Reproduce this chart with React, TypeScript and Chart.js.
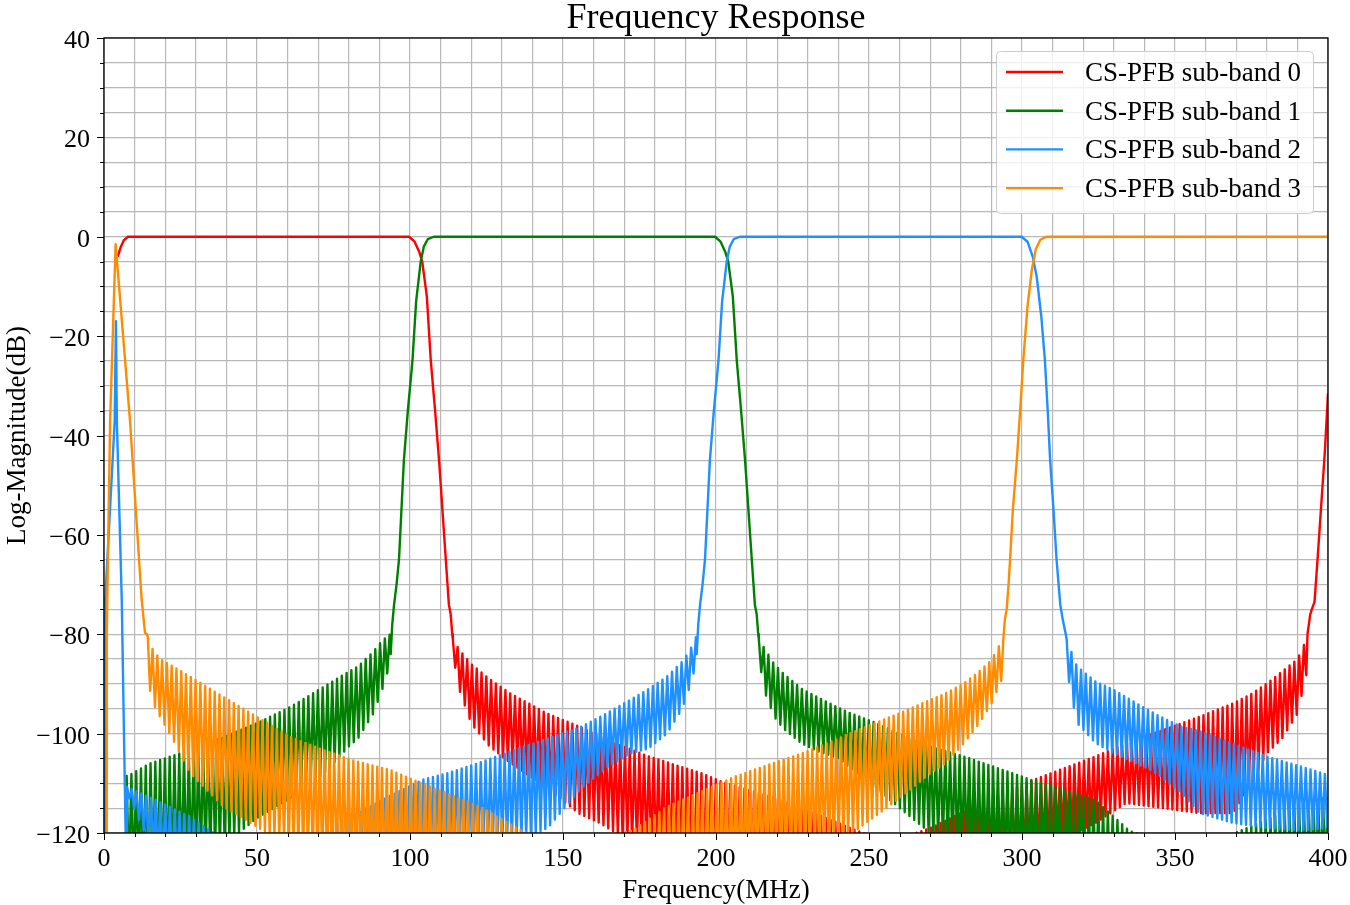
import React, { useEffect, useRef } from 'react';
import { Chart, registerables } from 'chart.js';

Chart.register(...registerables);

// ---------------- text ----------------
const TITLE = 'Frequency Response';
const X_LABEL = 'Frequency(MHz)';
const Y_LABEL = 'Log-Magnitude(dB)';
const SERIES_NAMES = ['CS-PFB sub-band 0', 'CS-PFB sub-band 1', 'CS-PFB sub-band 2', 'CS-PFB sub-band 3'];
const SERIES_COLORS = ['#ff0000', '#008000', '#1e90ff', '#ff8c00'];
const X_TICKS = [0, 50, 100, 150, 200, 250, 300, 350, 400];
const Y_TICKS = [40, 20, 0, -20, -40, -60, -80, -100, -120];

// spacing of the stop-band ripple (MHz)
const RIPPLE_PERIOD = 1.5625;

// ---------------- sub-band 0 (red) ----------------
const redMainFreq = [4.5, 5.5, 6.5, 7.8, 99.7, 101.5, 103, 104, 105.5, 106.8, 108.2, 109.5, 110.6, 111.7, 112.7, 113.3, 113.8];
const redMainDb = [-4, -2, -0.7, 0, 0, -1, -3, -5, -12, -25, -35, -45, -55, -65, -74, -76, -80];
const redLobeFreq = [114, 116, 120, 126, 133, 145, 155, 162, 178, 195, 202, 220, 240, 256, 270, 290, 305, 324, 334, 346, 358, 369, 375, 380, 385, 390, 393];
const redLobeHi = [-81, -83, -86, -89, -92, -96, -98.5, -100.6, -104.6, -107.9, -109.7, -113, -118, -122, -119, -113, -109, -104.6, -102, -99.3, -96.6, -93.9, -92, -89.9, -87.5, -85, -81];
const redLobeLo = [-84, -91, -98, -102.6, -106, -111, -116, -118, -124, -128, -130, -133, -135, -135, -134, -128, -124, -118, -114, -115, -116, -116, -110, -104, -101, -96, -88];
const redTailFreq = [393.3, 394.2, 394.7, 395.6, 396.8, 397.9, 399, 400];
const redTailDb = [-80, -76, -75, -73.5, -63, -53, -43, -31.5];

// ---------------- sub-band 1 (green) ----------------
const greenLobeAFreq = [7.4, 8.5, 15, 28, 40, 50, 61, 72, 80, 83, 88, 91, 93.5];
const greenLobeAHi = [-108.3, -108.3, -106, -103.3, -100.5, -97.9, -94.6, -90.5, -87.5, -86.5, -83.5, -81.2, -80];
const greenLobeALo = [-128, -130, -130, -128, -122, -117, -113, -108, -102.6, -101, -96, -91, -86];
const greenMainFreq = [93.7, 94.2, 94.8, 95.6, 96.4, 97.2, 98, 99.3, 100.8, 102, 103.5, 104.5, 105.8, 107.8, 199.7, 201.5, 203, 204, 205.5, 206.8, 208.2, 209.5, 210.6, 211.7, 212.7, 213.3, 213.8];
const greenMainDb = [-84, -78, -74, -70, -65, -55, -45, -35, -25, -13, -5, -2, -0.5, 0, 0, -1, -3, -5, -12, -25, -35, -45, -55, -65, -74, -76, -80];
const greenLobeBFreq = [214, 215.5, 219, 222, 228, 233, 240, 244, 252.5, 260, 270, 281, 290, 303, 315, 324, 335, 345, 358, 372, 385, 393, 400];
const greenLobeBHi = [-81, -82.5, -86, -87.9, -91, -92.6, -94.8, -95.9, -97.9, -100, -102.6, -104.6, -106.5, -109.3, -111.5, -113.4, -119.5, -122, -123, -119.4, -116, -114, -112.7];
const greenLobeBLo = [-84, -91, -96.6, -99, -102, -103.5, -105, -107, -111, -115, -120, -124, -128, -130, -132, -134, -135, -136, -136, -134, -132, -130, -128];

// ---------------- sub-band 2 (blue) ----------------
const blueSpikeFreq = [0.3, 0.4, 3.5, 3.9, 4.2, 5.8, 7.2];
const blueSpikeDb = [-125, -73, -37, -17, -37, -73, -125];
const blueLobeAFreq = [7.5, 17, 28, 36, 45, 55, 65, 73, 83, 93, 104, 112, 123, 134, 145, 156, 164, 172, 178, 184, 189, 191.5, 193.5];
const blueLobeAHi = [-110.7, -113.4, -116.7, -120, -123, -124, -122, -119, -116, -112.7, -109.3, -108, -105.8, -103.3, -101, -98.6, -96, -93.2, -91, -88.5, -85.5, -83.2, -80.5];
const blueLobeALo = [-112, -125, -130, -132, -134, -135, -135, -134, -132, -130, -128, -126, -124, -122, -119, -111, -107, -104, -103, -100, -95, -90.5, -86];
const blueMainFreq = [193.7, 194.2, 194.8, 195.6, 196.4, 197.2, 198, 199.3, 200.8, 202, 203.5, 204.5, 205.8, 207.8, 299.9, 301.8, 303.5, 304.8, 306.3, 307.5, 308.4, 309.2, 310.3, 311.3, 312.5, 313.3, 314.3];
const blueMainDb = [-84, -78, -74, -70, -65, -55, -45, -35, -25, -13, -5, -2, -0.5, 0, 0, -1, -4, -8, -16, -25, -35, -45, -55, -65, -74, -77, -80];
const blueLobeBFreq = [314.6, 315.5, 318, 324, 330, 335, 341, 345, 352, 358, 369, 380, 391, 400];
const blueLobeBHi = [-81, -82.5, -86.5, -89.5, -91.2, -93, -95.2, -96.5, -98.6, -99.5, -102, -104.6, -106.6, -108.3];
const blueLobeBLo = [-84, -90.5, -97.9, -101.9, -104, -105.3, -107, -108.5, -112, -116, -118, -119, -119.5, -119];

// ---------------- sub-band 3 (orange) ----------------
const orangeSpikeFreq = [0.5, 0.7, 0.9, 2, 3.8, 8.5, 12.3, 13.4, 14];
const orangeSpikeDb = [-125, -120, -80, -37, -1.5, -37, -73, -79.7, -80];
const orangeLobeFreq = [14.3, 15, 16.1, 18.3, 22.6, 28.1, 39, 49.9, 60.8, 71.7, 82, 93.5, 101, 112, 123, 134, 140, 150, 160, 173, 184, 195, 206, 217, 228, 238, 249, 260, 270, 275, 281, 286, 290, 293.5];
const orangeLobeHi = [-80.5, -82, -83.2, -85, -86.5, -88.5, -92.6, -96.6, -100.6, -103.3, -105.5, -107.3, -109.3, -112, -114.7, -118.7, -120.5, -122, -121.5, -119.4, -114.7, -111.7, -108.7, -106.3, -104, -101.5, -98.6, -95.9, -93.2, -91.9, -89.9, -87.5, -85.2, -81.2];
const orangeLobeLo = [-84, -91.2, -94, -96.6, -101.3, -107.9, -114.7, -118.7, -123, -126, -128, -130, -131, -132, -133, -134, -134, -134, -134, -134, -133, -132, -130, -128, -126, -123, -118, -113, -108, -106, -102, -98, -94, -89];
const orangeMainFreq = [293.9, 294.4, 295, 295.6, 296.1, 297, 298.3, 299.4, 300.4, 301.8, 303.2, 304.5, 306, 308, 400];
const orangeMainDb = [-81, -77, -75, -70, -65, -55, -45, -35, -25, -14, -6.7, -2.5, -0.6, 0, 0];

// ---------------- helpers ----------------
type Pt = { x: number; y: number };

function curve(f: number[], db: number[]): Pt[] {
  return f.map((x, i) => ({ x, y: db[i] }));
}

function envAt(f: number[], v: number[], x: number): number {
  if (x <= f[0]) return v[0];
  for (let i = 1; i < f.length; i++) {
    if (x <= f[i]) {
      const t = (x - f[i - 1]) / (f[i] - f[i - 1]);
      return v[i - 1] + t * (v[i] - v[i - 1]);
    }
  }
  return v[v.length - 1];
}

// ripple that swings between the read upper and lower envelopes
function lobe(f: number[], hi: number[], lo: number[]): Pt[] {
  const half = RIPPLE_PERIOD / 2;
  const n = Math.floor((f[f.length - 1] - f[0]) / half + 1e-9);
  const pts: Pt[] = [];
  for (let k = 0; k <= n; k++) {
    const x = f[0] + k * half;
    pts.push({ x, y: k % 2 === 0 ? envAt(f, hi, x) : envAt(f, lo, x) });
  }
  return pts;
}

const seriesPoints: Pt[][] = [
  [...curve(redMainFreq, redMainDb), ...lobe(redLobeFreq, redLobeHi, redLobeLo), ...curve(redTailFreq, redTailDb)],
  [...lobe(greenLobeAFreq, greenLobeAHi, greenLobeALo), ...curve(greenMainFreq, greenMainDb), ...lobe(greenLobeBFreq, greenLobeBHi, greenLobeBLo)],
  [...curve(blueSpikeFreq, blueSpikeDb), ...lobe(blueLobeAFreq, blueLobeAHi, blueLobeALo), ...curve(blueMainFreq, blueMainDb), ...lobe(blueLobeBFreq, blueLobeBHi, blueLobeBLo)],
  [...curve(orangeSpikeFreq, orangeSpikeDb), ...lobe(orangeLobeFreq, orangeLobeHi, orangeLobeLo), ...curve(orangeMainFreq, orangeMainDb)],
];

const SERIF = "'Liberation Serif', 'Times New Roman', serif";

function fmt(v: number): string {
  return v < 0 ? '\u2212' + Math.abs(v) : String(v);
}

const decorPlugin = {
  id: 'decor',
  afterDraw(chart: any) {
    const { ctx, chartArea: a, scales } = chart;
    const xs = scales.x;
    const ys = scales.y;
    ctx.save();
    // frame
    ctx.strokeStyle = '#000';
    ctx.lineWidth = 1.3;
    ctx.strokeRect(a.left, a.top, a.right - a.left, a.bottom - a.top);
    // tick marks
    ctx.lineWidth = 1;
    ctx.beginPath();
    for (const t of xs.ticks) {
      const v = t.value;
      const px = Math.round(xs.getPixelForValue(v)) + 0.5;
      const len = v % 50 === 0 ? 7 : 4;
      ctx.moveTo(px, a.bottom);
      ctx.lineTo(px, a.bottom + len);
    }
    for (const t of ys.ticks) {
      const v = t.value;
      const py = Math.round(ys.getPixelForValue(v)) + 0.5;
      const len = v % 20 === 0 ? 7 : 4;
      ctx.moveTo(a.left, py);
      ctx.lineTo(a.left - len, py);
    }
    ctx.stroke();
    // tick labels
    ctx.fillStyle = '#000';
    ctx.font = `26px ${SERIF}`;
    ctx.textBaseline = 'alphabetic';
    ctx.textAlign = 'center';
    for (const v of X_TICKS) ctx.fillText(String(v), xs.getPixelForValue(v), 866);
    ctx.textAlign = 'right';
    for (const v of Y_TICKS) ctx.fillText(fmt(v), a.left - 14, ys.getPixelForValue(v) + 10);
    // axis titles
    ctx.font = `27px ${SERIF}`;
    ctx.textAlign = 'center';
    ctx.fillText(X_LABEL, (a.left + a.right) / 2, 898);
    ctx.save();
    ctx.translate(25, (a.top + a.bottom) / 2);
    ctx.rotate(-Math.PI / 2);
    ctx.fillText(Y_LABEL, 0, 0);
    ctx.restore();
    // title
    ctx.font = `36px ${SERIF}`;
    ctx.fillText(TITLE, (a.left + a.right) / 2, 28);
    // legend
    const bx = 996, by = 51, bw = 317, bh = 162;
    ctx.beginPath();
    if (ctx.roundRect) ctx.roundRect(bx + 0.5, by + 0.5, bw, bh, 4);
    else ctx.rect(bx + 0.5, by + 0.5, bw, bh);
    ctx.fillStyle = 'rgba(255,255,255,0.8)';
    ctx.fill();
    ctx.strokeStyle = '#cccccc';
    ctx.lineWidth = 1;
    ctx.stroke();
    ctx.font = `27px ${SERIF}`;
    ctx.textAlign = 'left';
    SERIES_NAMES.forEach((name, i) => {
      const cy = 72 + i * 38.7;
      ctx.strokeStyle = SERIES_COLORS[i];
      ctx.lineWidth = 2.4;
      ctx.beginPath();
      ctx.moveTo(1006, cy);
      ctx.lineTo(1063, cy);
      ctx.stroke();
      ctx.fillStyle = '#000';
      ctx.fillText(name, 1085, cy + 9);
    });
    ctx.restore();
  },
};

export default function App() {
  const ref = useRef<HTMLCanvasElement>(null);
  useEffect(() => {
    document.body.style.margin = '0';
    document.body.style.overflow = 'hidden';
    const orders = [3, 2, 1, 0];
    const chart = new Chart(ref.current as HTMLCanvasElement, {
      type: 'line',
      data: {
        datasets: seriesPoints.map((pts, i) => ({
          label: SERIES_NAMES[i],
          data: pts,
          borderColor: SERIES_COLORS[i],
          backgroundColor: SERIES_COLORS[i],
          borderWidth: 2.4,
          pointRadius: 0,
          tension: 0,
          fill: false,
          order: orders[i],
          clip: 0,
          borderJoinStyle: 'round',
        })) as any,
      },
      options: {
        animation: false,
        responsive: false,
        devicePixelRatio: 1,
        parsing: false,
        normalized: true,
        events: [],
        layout: { padding: { left: 104, right: 22, top: 38, bottom: 72 } },
        plugins: { legend: { display: false }, title: { display: false }, tooltip: { enabled: false } },
        scales: {
          x: {
            type: 'linear',
            min: 0,
            max: 400,
            ticks: { display: false, stepSize: 10, autoSkip: false },
            grid: { color: '#b8b8b8', lineWidth: 1.2, drawTicks: false },
            border: { display: false },
            afterFit: (s: any) => { s.height = 0; },
          },
          y: {
            type: 'linear',
            min: -120,
            max: 40,
            ticks: { display: false, stepSize: 5, autoSkip: false },
            grid: { color: '#b8b8b8', lineWidth: 1.2, drawTicks: false },
            border: { display: false },
            afterFit: (s: any) => { s.width = 0; },
          },
        },
      } as any,
      plugins: [decorPlugin],
    });
    return () => chart.destroy();
  }, []);
  return (
    <div style={{ width: 1350, height: 905, background: '#fff' }}>
      <canvas ref={ref} width={1350} height={905} style={{ display: 'block' }} />
    </div>
  );
}
